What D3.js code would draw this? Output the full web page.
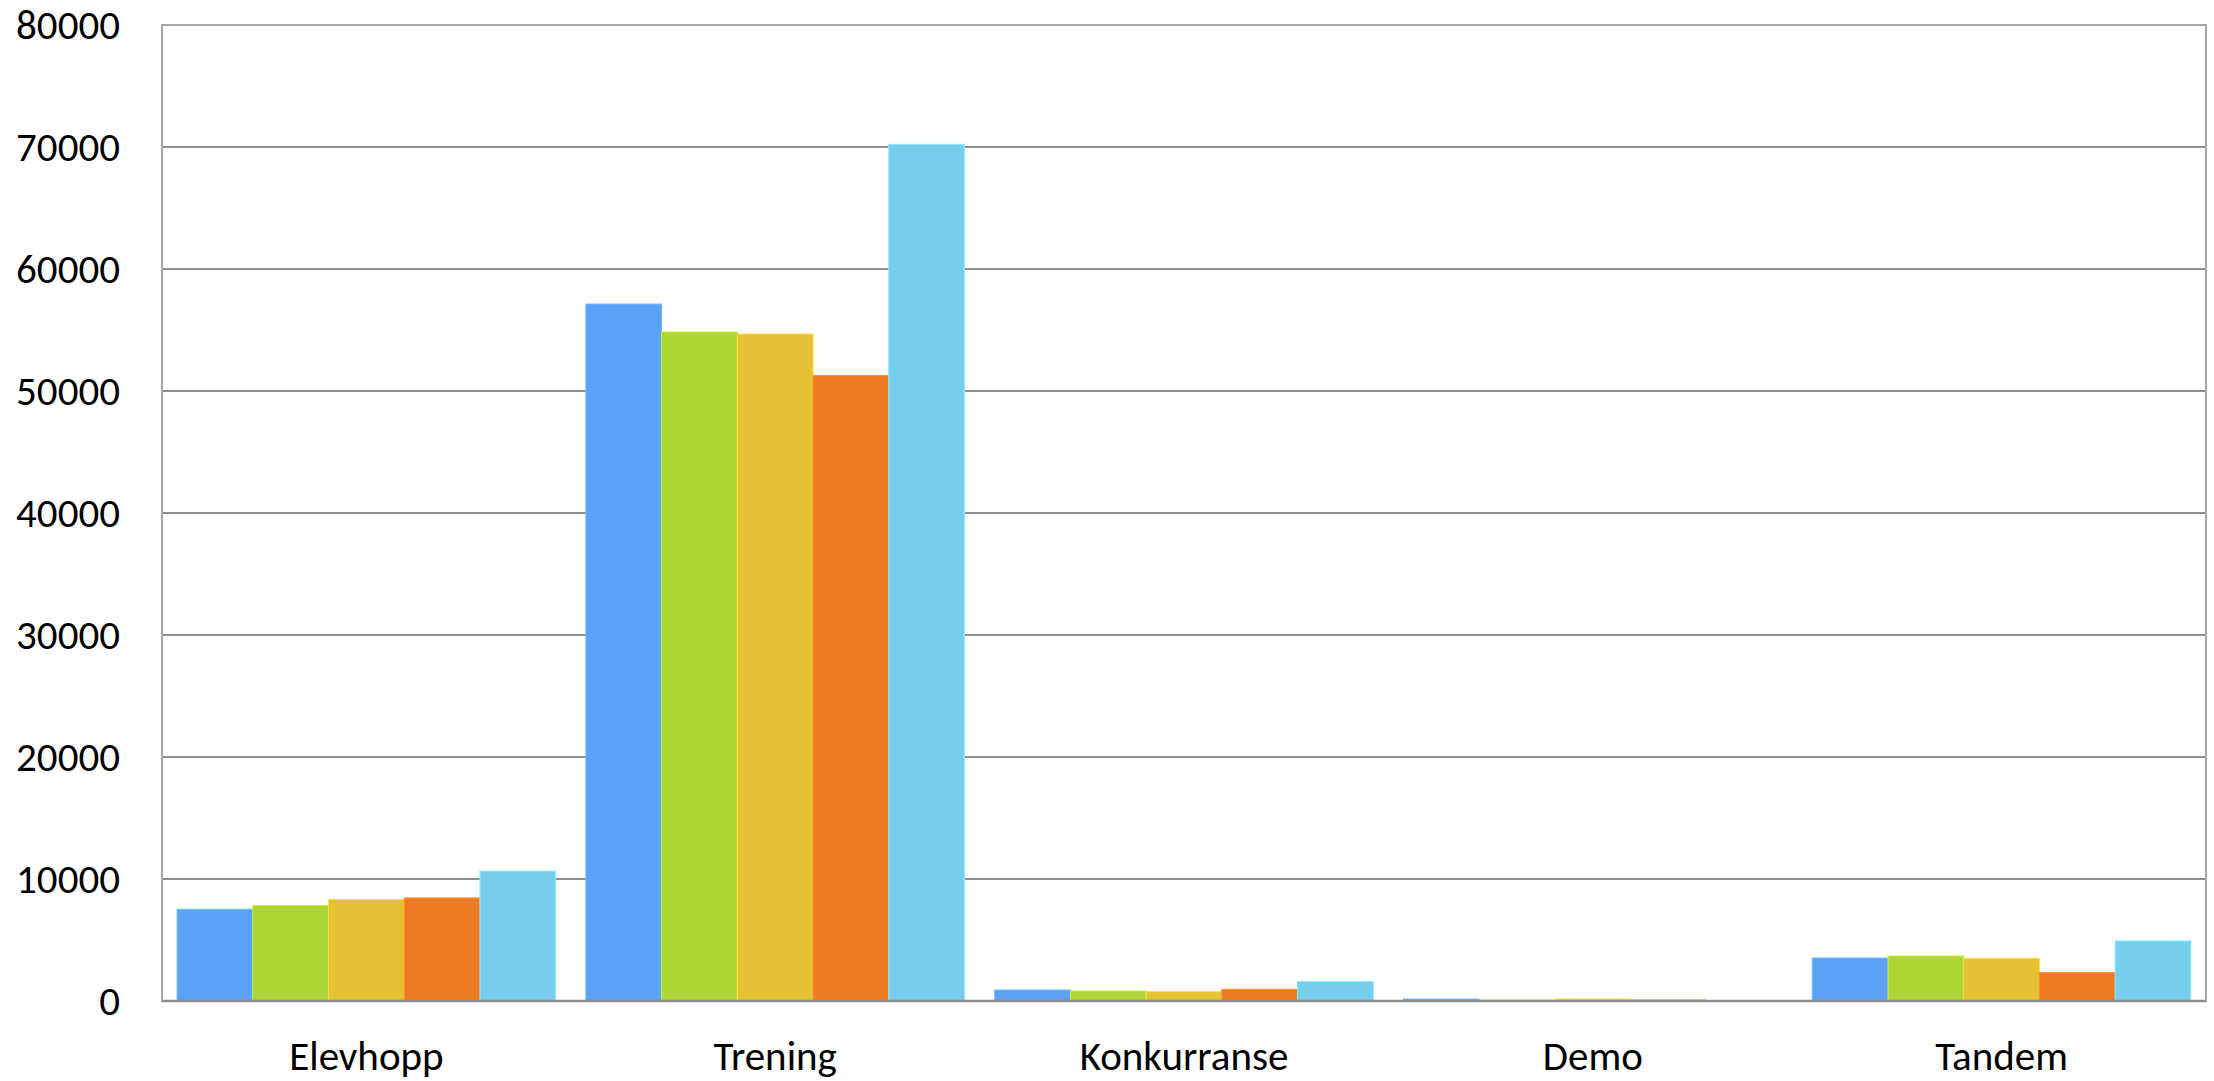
<!DOCTYPE html>
<html>
<head>
<meta charset="utf-8">
<script src="https://cdn.jsdelivr.net/npm/d3@7"></script>
<style>
  html, body { margin: 0; padding: 0; background: #fff; }
  svg { display: block; }
</style>
</head>
<body>
<svg id="chart"></svg>
<script>
// categories on the x axis
const categories = ["Elevhopp", "Trening", "Konkurranse", "Demo", "Tandem"];
// one array per series (no legend in the original, so plain names)
const seriesNames = ["Serie 1", "Serie 2", "Serie 3", "Serie 4", "Serie 5"];
const serie1 = [7520, 57130, 900, 160, 3520];
const serie2 = [7820, 54840, 820, 80, 3690];
const serie3 = [8310, 54670, 770, 160, 3500];
const serie4 = [8450, 51260, 960, 80, 2320];
const serie5 = [10650, 70220, 1590, 30, 4920];
const yTicks = [0, 10000, 20000, 30000, 40000, 50000, 60000, 70000, 80000];
const colors = ["#5ba1f5", "#add535", "#e5c135", "#ee7b24", "#76ceec"];

const allSeries = [serie1, serie2, serie3, serie4, serie5];

const width = 2214, height = 1081;
const margin = { top: 25, right: 8, bottom: 80, left: 162 };
const font = "Carlito, Calibri, Lato, 'DejaVu Sans', sans-serif";

const svg = d3.select("#chart").attr("width", width).attr("height", height);

const x0 = d3.scaleBand()
    .domain(categories)
    .range([margin.left, width - margin.right])
    .paddingInner(0.074)
    .paddingOuter(0.037);

const x1 = d3.scaleBand()
    .domain(seriesNames)
    .range([0, x0.bandwidth()]);

const y = d3.scaleLinear()
    .domain([0, 80000])
    .range([height - margin.bottom, margin.top]);

// gridlines
svg.append("g")
    .selectAll("line")
    .data(yTicks.filter(t => t > 0 && t < 80000))
    .join("line")
    .attr("x1", margin.left)
    .attr("x2", width - margin.right)
    .attr("y1", d => y(d))
    .attr("y2", d => y(d))
    .attr("stroke", "#8e8e8e")
    .attr("stroke-width", 2);

// frame
svg.append("rect")
    .attr("x", margin.left)
    .attr("y", margin.top)
    .attr("width", width - margin.right - margin.left)
    .attr("height", y(0) - margin.top)
    .attr("fill", "none")
    .attr("stroke", "#a8a8a8")
    .attr("stroke-width", 2);

// bars
const rows = categories.map((c, i) => ({ cat: c, vals: allSeries.map((s, j) => ({ name: seriesNames[j], v: s[i], k: j })) }));

svg.append("g")
    .selectAll("g")
    .data(rows)
    .join("g")
    .attr("transform", d => `translate(${x0(d.cat)},0)`)
    .selectAll("rect")
    .data(d => d.vals)
    .join("rect")
    .attr("x", d => x1(d.name))
    .attr("width", x1.bandwidth())
    .attr("y", d => y(d.v))
    .attr("height", d => y(0) - y(d.v))
    .attr("fill", d => colors[d.k])
    .attr("stroke", d => d3.color(colors[d.k]).brighter(0.4))
    .attr("stroke-width", 1);

// baseline
svg.append("line")
    .attr("x1", margin.left)
    .attr("x2", width - margin.right)
    .attr("y1", y(0))
    .attr("y2", y(0))
    .attr("stroke", "#8e8e8e")
    .attr("stroke-width", 2.5);

// y axis labels
const yAxis = d3.axisLeft(y).tickValues(yTicks).tickFormat(d3.format("d")).tickSize(0).tickPadding(42);
svg.append("g")
    .attr("transform", `translate(${margin.left},0)`)
    .call(yAxis)
    .call(g => g.select(".domain").remove())
    .selectAll("text")
    .attr("font-family", font)
    .attr("font-size", 41)
    .attr("fill", "#000");

// x axis labels
const xAxis = d3.axisBottom(x0).tickSize(0).tickPadding(40);
svg.append("g")
    .attr("transform", `translate(0,${y(0)})`)
    .call(xAxis)
    .call(g => g.select(".domain").remove())
    .selectAll("text")
    .attr("font-family", font)
    .attr("font-size", 41)
    .attr("fill", "#000");
</script>
</body>
</html>
